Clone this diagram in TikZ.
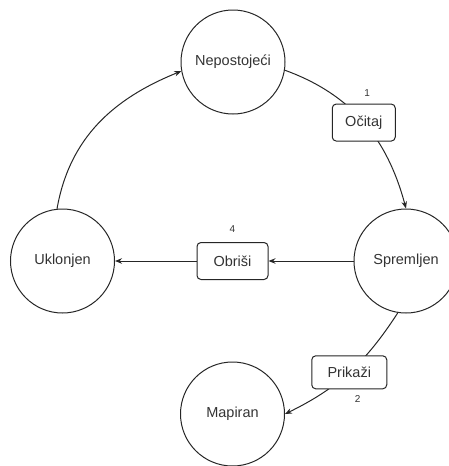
\documentclass[tikz,border=0pt]{standalone}
\usepackage{fontspec}
\setmainfont{Liberation Sans}
\usetikzlibrary{arrows.meta, positioning}
\tikzset{
  state/.style = {draw=black!85, circle, minimum size=104pt, inner sep=0pt,
                  line width=1pt, text=black!80, font=\fontsize{14.5}{17}\selectfont},
  action/.style = {draw=black!85, rounded corners=4pt, fill=white, line width=1pt,
                   minimum height=37pt, inner sep=0pt, text=black!80,
                   font=\fontsize{14.5}{17}\selectfont},
  link/.style = {line width=1pt, black!85, arrows={-Stealth[length=7pt, width=5.5pt]}},
  step label/.style = {inner sep=0pt, text=black!80, font=\fontsize{10}{12}\selectfont},
}

\begin{document}
\begin{tikzpicture}[x=1pt, y=1pt]
  \useasboundingbox (0,0) rectangle (448,-466);

  %% The four states
  \node [state] (nepostojeci) at (233,-62) {Nepostojeći};
  \node [state] (uklonjen) at (62.5,-261) {Uklonjen};
  \node [state] (spremljen) at (406,-261) {Spremljen};
  \node [state] (mapiran) at (232.5,-414) {Mapiran};

  %% Step 1: read
  \draw [link] (nepostojeci.-9) to [out=-20, in=105]
    node [action, pos=.5, minimum width=63pt] (ocitaj) {Očitaj} (spremljen.north);
  \node [step label, above=7pt of ocitaj, xshift=3.5pt] (ocitaj_step) {1};

  %% Step 2: show
  \draw [link] (spremljen.-99) to [out=-123, in=26]
    node [action, pos=.5, minimum width=75pt, minimum height=33pt] (prikazi) {Prikaži}
    (mapiran.east);
  \node [step label, below=6pt of prikazi, xshift=8.5pt] (prikazi_step) {2};

  %% Step 4: delete
  \node [action, minimum width=71pt] (obrisi) at (232.5,-261) {Obriši};
  \node [step label, above=9.5pt of obrisi] (obrisi_step) {4};
  \draw [link] (spremljen) -- (obrisi);
  \draw [link] (obrisi) -- (uklonjen);

  %% Back to the start
  \draw [link] (uklonjen.96) to [out=80, in=202] (nepostojeci.190);
\end{tikzpicture}
\end{document}
